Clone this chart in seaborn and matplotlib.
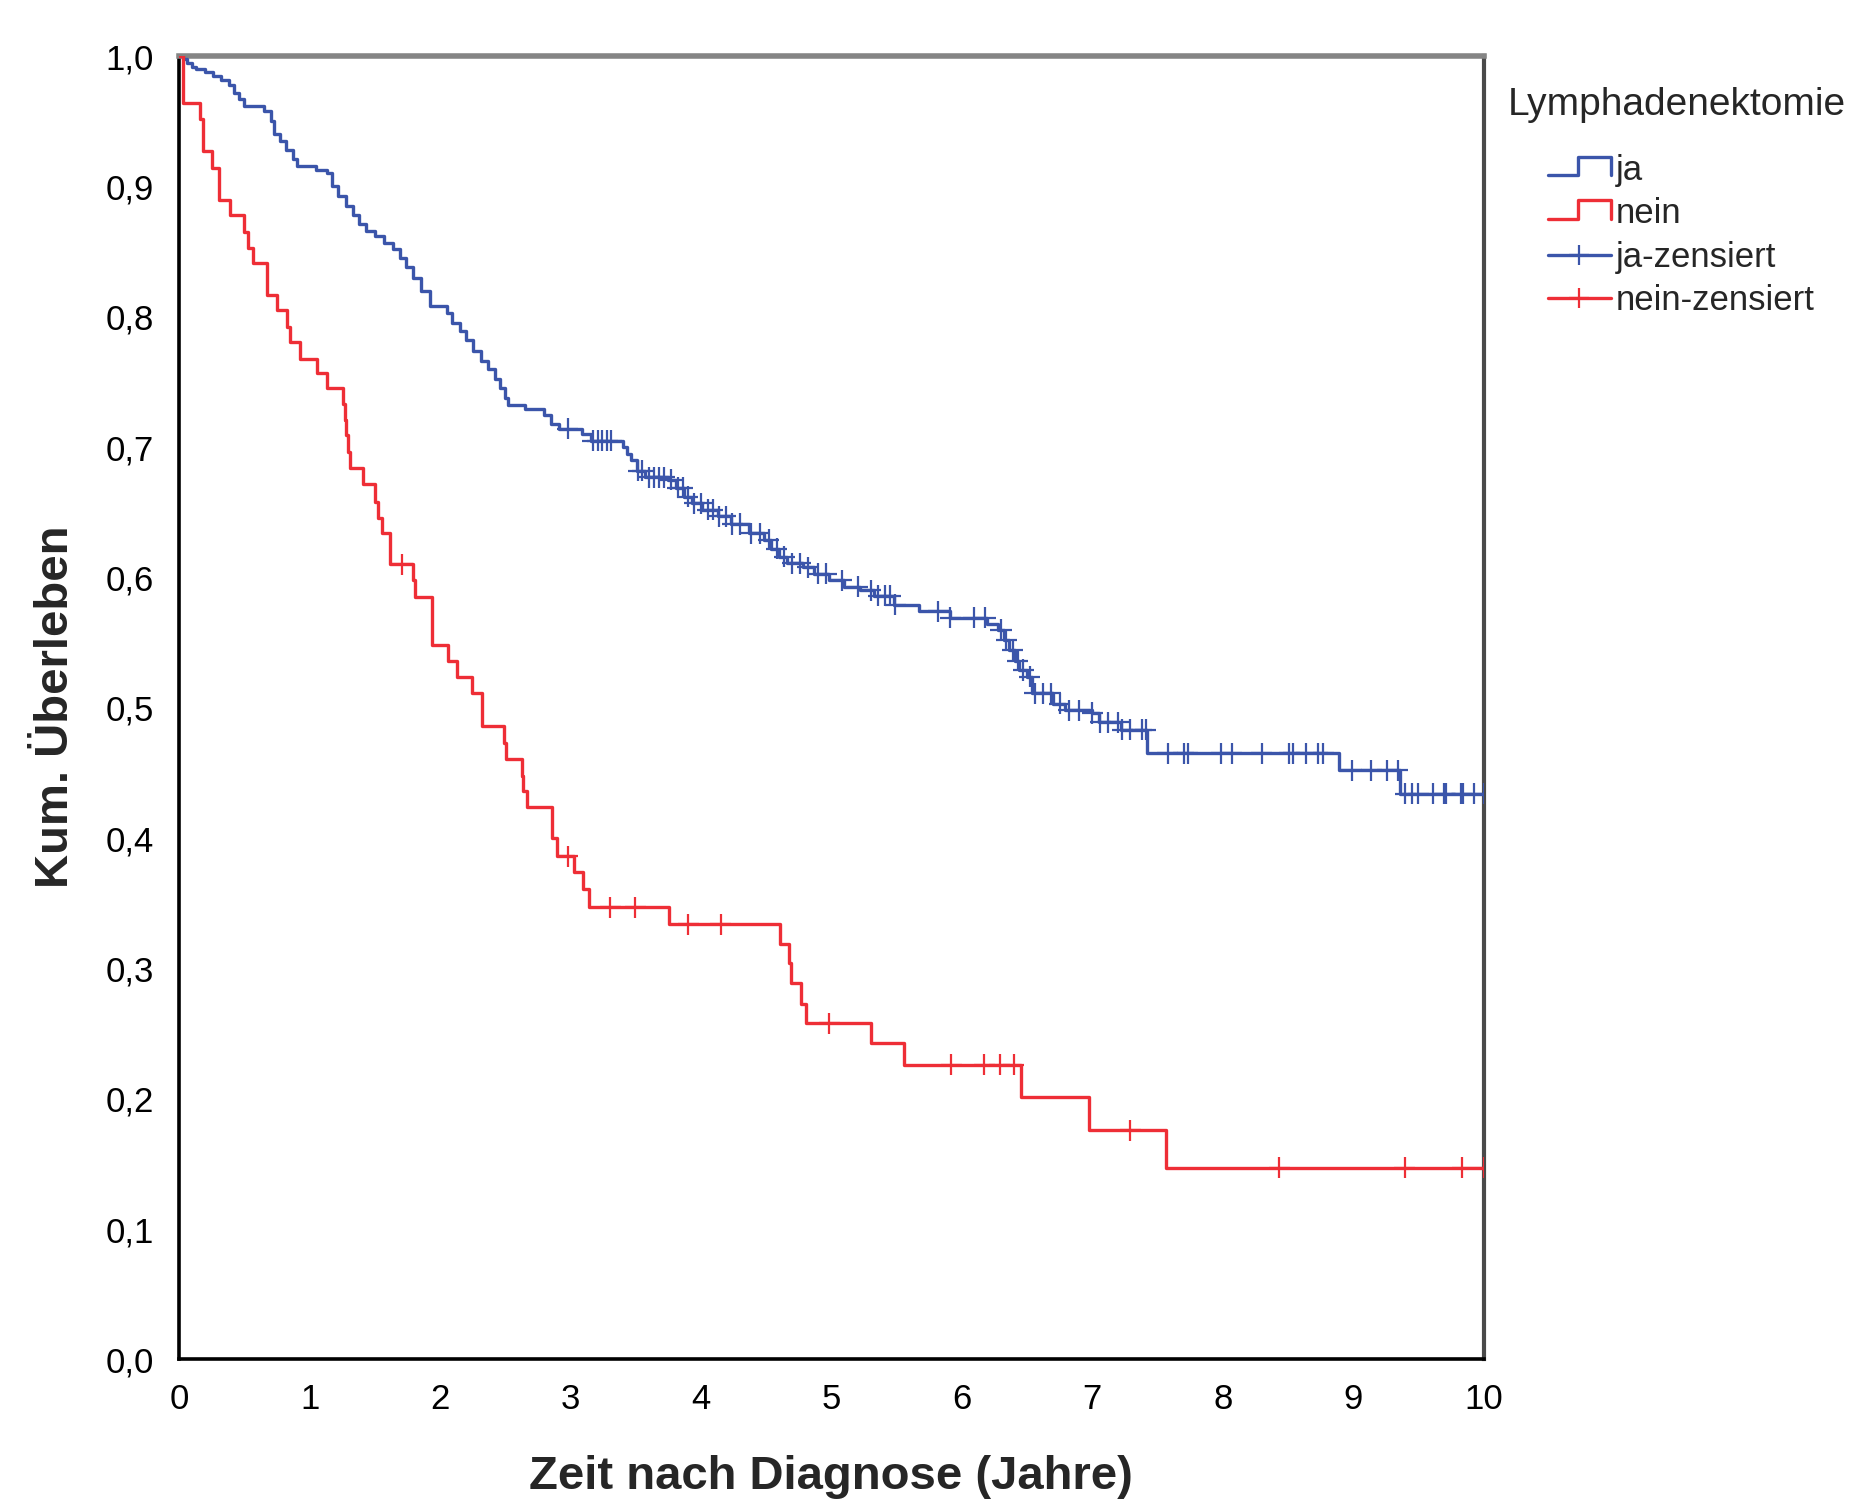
import numpy as np
import pandas as pd
import seaborn as sns
import matplotlib.pyplot as plt
from matplotlib.lines import Line2D
from matplotlib.legend_handler import HandlerBase

sns.set_theme(style="white")
plt.rcParams['font.family'] = ['Liberation Sans', 'DejaVu Sans']

# Kaplan-Meier step points (time in years, cumulative survival after the step)
ja_t = [0.00, 0.03, 0.06, 0.10, 0.13, 0.20, 0.26, 0.32, 0.38, 0.42, 0.46, 0.50, 0.65, 0.70,
        0.73, 0.77, 0.82, 0.87, 0.90, 1.05, 1.13, 1.17, 1.22, 1.28, 1.33, 1.38, 1.43, 1.50,
        1.57, 1.64, 1.69, 1.74, 1.79, 1.85, 1.92, 2.05, 2.09, 2.15, 2.20, 2.25, 2.31, 2.37,
        2.42, 2.46, 2.50, 2.52, 2.65, 2.80, 2.85, 2.91, 3.09, 3.16, 3.40, 3.43, 3.46, 3.51, 3.57,
        3.75, 3.81, 3.87, 3.93, 4.01, 4.13, 4.23, 4.37, 4.48, 4.54, 4.60, 4.66, 4.78, 4.87,
        4.98, 5.10, 5.22, 5.33, 5.48, 5.67, 5.91, 6.19, 6.28, 6.32, 6.36, 6.41, 6.44, 6.50,
        6.54, 6.70, 6.79, 7.00, 7.05, 7.22, 7.42, 8.89, 9.36, 10.0]
ja_s = [1.000, 0.998, 0.995, 0.992, 0.990, 0.988, 0.985, 0.982, 0.978, 0.972, 0.967, 0.962, 0.958, 0.950,
        0.940, 0.935, 0.928, 0.921, 0.916, 0.913, 0.910, 0.900, 0.893, 0.885, 0.878, 0.871, 0.866, 0.862,
        0.857, 0.852, 0.845, 0.838, 0.830, 0.820, 0.808, 0.803, 0.795, 0.789, 0.782, 0.774, 0.766, 0.760,
        0.752, 0.745, 0.738, 0.732, 0.729, 0.725, 0.718, 0.714, 0.710, 0.705, 0.700, 0.695, 0.690, 0.682, 0.677,
        0.675, 0.669, 0.662, 0.657, 0.652, 0.647, 0.641, 0.634, 0.629, 0.622, 0.616, 0.611, 0.608, 0.603,
        0.598, 0.593, 0.590, 0.586, 0.579, 0.574, 0.569, 0.564, 0.560, 0.552, 0.544, 0.536, 0.529, 0.524,
        0.511, 0.503, 0.498, 0.496, 0.489, 0.483, 0.465, 0.452, 0.434, 0.434]

nein_t = [0.00, 0.03, 0.16, 0.185, 0.249, 0.308, 0.390, 0.497, 0.530, 0.563, 0.671, 0.747, 0.829,
          0.850, 0.926, 1.054, 1.131, 1.259, 1.270, 1.280, 1.295, 1.310, 1.412, 1.502, 1.527,
          1.553, 1.617, 1.790, 1.808, 1.941, 2.064, 2.133, 2.243, 2.320, 2.486, 2.506, 2.626,
          2.639, 2.665, 2.856, 2.895, 3.023, 3.099, 3.138, 3.752, 4.603, 4.676, 4.690, 4.764,
          4.808, 5.307, 5.556, 6.457, 6.971, 7.565, 10.0]
nein_s = [1.000, 0.964, 0.952, 0.927, 0.914, 0.890, 0.878, 0.865, 0.853, 0.841, 0.817, 0.805, 0.792,
          0.781, 0.768, 0.757, 0.745, 0.733, 0.721, 0.709, 0.696, 0.684, 0.672, 0.658, 0.646,
          0.634, 0.610, 0.598, 0.585, 0.548, 0.536, 0.524, 0.511, 0.486, 0.473, 0.461, 0.448,
          0.436, 0.424, 0.400, 0.386, 0.374, 0.361, 0.347, 0.334, 0.319, 0.304, 0.289, 0.273,
          0.258, 0.243, 0.226, 0.201, 0.176, 0.147, 0.147]

# censored observations (years)
ja_cens = [2.98, 3.17, 3.21, 3.24, 3.28, 3.31, 3.52, 3.55, 3.60, 3.64, 3.68, 3.72, 3.77, 3.82,
           3.86, 3.90, 3.95, 4.00, 4.05, 4.09, 4.14, 4.19, 4.24, 4.30, 4.38, 4.45, 4.52, 4.58,
           4.64, 4.70, 4.76, 4.82, 4.90, 4.96, 5.08, 5.20, 5.30, 5.36, 5.41, 5.45, 5.49, 5.82,
           5.91, 6.09, 6.18, 6.30, 6.34, 6.39, 6.43, 6.47, 6.52, 6.56, 6.62, 6.68, 6.75, 6.82,
           6.90, 7.00, 7.06, 7.12, 7.20, 7.23, 7.29, 7.38, 7.41, 7.58, 7.70, 7.73, 7.99, 8.07,
           8.30, 8.51, 8.54, 8.64, 8.73, 8.77, 8.99, 9.14, 9.26, 9.34, 9.40, 9.45, 9.50, 9.61,
           9.70, 9.71, 9.83, 9.84, 9.93, 10.0]
nein_cens = [1.711, 2.977, 3.305, 3.496, 3.904, 4.153, 4.984, 5.917, 6.172, 6.290, 6.399,
             7.29, 8.435, 9.395, 9.835, 10.0]

groups = ["ja", "nein"]
colors = {"ja": "#3b55aa", "nein": "#ee2e36"}
y_ticks = [0.0, 0.1, 0.2, 0.3, 0.4, 0.5, 0.6, 0.7, 0.8, 0.9, 1.0]
x_ticks = list(range(0, 11))


def censor_level(steps_t, steps_s, cens):
    # survival level of the step function at each censoring time
    idx = np.searchsorted(np.asarray(steps_t), np.asarray(cens), side="right") - 1
    return np.asarray(steps_s)[idx]


class StepHandler(HandlerBase):
    def create_artists(self, legend, orig_handle, xdescent, ydescent, width, height, fontsize, trans):
        x0, y0 = -xdescent, -ydescent
        xs = [x0, x0 + 0.48 * width, x0 + 0.48 * width, x0 + width, x0 + width]
        ys = [y0 + 0.2 * height, y0 + 0.2 * height, y0 + 0.95 * height, y0 + 0.95 * height, y0 + 0.2 * height]
        line = Line2D(xs, ys, color=orig_handle.get_color(), lw=orig_handle.get_linewidth())
        line.set_transform(trans)
        return [line]


curves = pd.concat([
    pd.DataFrame({"t": ja_t, "s": ja_s, "grp": "ja"}),
    pd.DataFrame({"t": nein_t, "s": nein_s, "grp": "nein"}),
])
cens = pd.concat([
    pd.DataFrame({"t": ja_cens, "s": censor_level(ja_t, ja_s, ja_cens), "grp": "ja"}),
    pd.DataFrame({"t": nein_cens, "s": censor_level(nein_t, nein_s, nein_cens), "grp": "nein"}),
])

fig = plt.figure(figsize=(18.73, 15.01), dpi=100)
ax = fig.add_axes([0.0957, 0.0943, 0.6964, 0.8683])

sns.lineplot(data=curves, x="t", y="s", hue="grp", palette=colors, drawstyle="steps-post",
             estimator=None, sort=False, linewidth=2.4, legend=False, ax=ax, zorder=3)
sns.scatterplot(data=cens, x="t", y="s", hue="grp", palette=colors, marker="+", s=230,
                linewidth=1.6, legend=False, ax=ax, zorder=4)

ax.set_xlim(0, 10)
ax.set_ylim(0, 1)
ax.set_xticks(x_ticks)
ax.set_xticklabels([str(v) for v in x_ticks])
ax.set_yticks(y_ticks)
ax.set_yticklabels([f"{v:.1f}".replace(".", ",") for v in y_ticks])
ax.set_xlabel("")
ax.set_ylabel("")
ax.tick_params(axis="both", direction="out", length=15, width=2, color="#333333",
               labelsize=25, labelcolor="black")
ax.tick_params(axis="x", pad=2)
ax.tick_params(axis="y", pad=3)
ax.grid(False)

for side in ["left", "bottom"]:
    ax.spines[side].set_color("black")
    ax.spines[side].set_linewidth(2.6)
ax.spines["top"].set_color("#858585")
ax.spines["top"].set_linewidth(4)
ax.spines["right"].set_color("#4a4a4a")
ax.spines["right"].set_linewidth(3)

fig.text(68 / 1873, 1 - 707 / 1501, "Kum. Überleben", rotation=90, rotation_mode="anchor",
         ha="center", va="baseline", fontsize=34, fontweight="bold")
fig.text(0.4439, 1 - 1489 / 1501, "Zeit nach Diagnose (Jahre)", ha="center", va="baseline",
         fontsize=34, fontweight="bold")

fig.text(1508 / 1873, 1 - 115 / 1501, "Lymphadenektomie", ha="left", va="baseline", fontsize=28)
h_ja = Line2D([], [], color=colors["ja"], lw=2.4)
h_nein = Line2D([], [], color=colors["nein"], lw=2.4)
h_ja_c = Line2D([], [], color=colors["ja"], lw=2.4, marker="+", markersize=15, markeredgewidth=1.6)
h_nein_c = Line2D([], [], color=colors["nein"], lw=2.4, marker="+", markersize=15, markeredgewidth=1.6)
fig.legend([h_ja, h_nein, h_ja_c, h_nein_c], ["ja", "nein", "ja-zensiert", "nein-zensiert"],
           handler_map={h_ja: StepHandler(), h_nein: StepHandler()},
           loc="upper left", bbox_to_anchor=(1548 / 1873, 1 - 154 / 1501), frameon=False,
           fontsize=25, handlelength=1.8, handletextpad=0.15, labelspacing=0.3,
           borderpad=0, borderaxespad=0, numpoints=1)

fig.savefig("out.png", dpi=100)
